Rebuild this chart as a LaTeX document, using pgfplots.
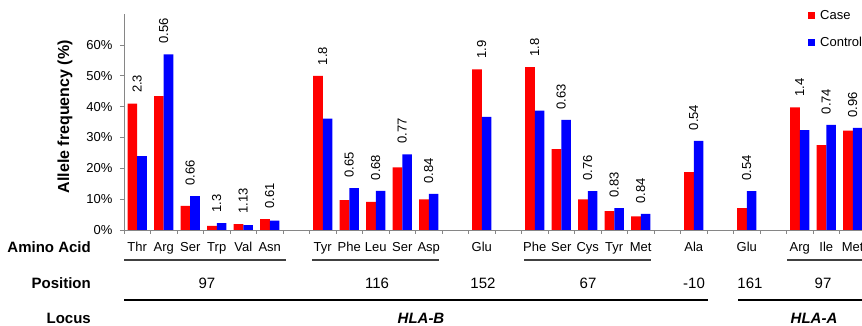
\documentclass[border=0pt]{standalone}
\usepackage{pgfplots}
\usepackage{pgfplotstable}
\pgfplotsset{compat=1.18}
\usepackage{fontspec}
\setmainfont{Liberation Sans}
\definecolor{casered}{RGB}{255,0,0}
\definecolor{ctrlblue}{RGB}{0,0,255}
\definecolor{axisgray}{RGB}{134,134,134}
\definecolor{linegray}{RGB}{64,64,64}

\pgfplotstableread{
x case control maxv label
0 41.0 24.0 41.0 2.3
1 43.4 57.0 57.0 0.56
2 7.8 11.0 11.0 0.66
3 1.3 2.2 2.2 1.3
4 1.9 1.6 1.9 1.13
5 3.5 3.0 3.5 0.61
7 50.0 36.1 50.0 1.8
8 9.7 13.6 13.6 0.65
9 9.1 12.7 12.7 0.68
10 20.3 24.5 24.5 0.77
11 9.9 11.7 11.7 0.84
13 52.1 36.7 52.1 1.9
15 52.8 38.7 52.8 1.8
16 26.2 35.7 35.7 0.63
17 9.9 12.6 12.6 0.76
18 6.1 7.1 7.1 0.83
19 4.4 5.2 5.2 0.84
21 18.8 28.9 28.9 0.54
23 7.1 12.6 12.6 0.54
25 39.8 32.4 39.8 1.4
26 27.5 34.1 34.1 0.74
27 32.2 33.1 33.1 0.96
}\datatable

\begin{document}
\begin{tikzpicture}
\path[use as bounding box] (-124pt,-96pt) rectangle (738pt,230pt);
\begin{axis}[
  scale only axis,
  width=742pt, height=215.8pt,
  xmin=-0.5, xmax=27.5,
  ymin=0, ymax=70,
  clip=false,
  axis x line=bottom, axis y line=left,
  axis line style={draw=axisgray, line width=0.8pt, -},
  tick align=outside,
  major tick length=0pt,
  minor tick length=4pt,
  every tick/.style={draw=axisgray, line width=0.8pt},
  every minor tick/.style={draw=axisgray, line width=0.8pt},
  xtick={0,...,27},
  xticklabels={Thr,Arg,Ser,Trp,Val,Asn,,Tyr,Phe,Leu,Ser,Asp,,Glu,,Phe,Ser,Cys,Tyr,Met,,Ala,,Glu,,Arg,Ile,Met},
  minor xtick={-0.5,0.5,...,27.5},
  ytick={0,10,...,60},
  yticklabels={0\%,10\%,20\%,30\%,40\%,50\%,60\%},
  minor ytick={0,10,...,60},
  ticklabel style={font=\fontsize{13}{15}\selectfont, text=black},
  xticklabel style={yshift=-9pt, anchor=north},
  yticklabel style={xshift=-8pt},
  ylabel={\bfseries Allele frequency (\%)},
  ylabel style={font=\fontsize{16}{18}\selectfont, at={(axis description cs:-0.0795,0.525)}, anchor=center, rotate=0},
  legend style={at={(axis description cs:0.9218,1.029)}, anchor=north west, draw=none, fill=none,
    font=\fontsize{13}{15}\selectfont, row sep=12.5pt, inner sep=0pt, cells={anchor=west}},
  legend cell align=left,
]
\addplot[ybar, bar width=9.7pt, bar shift=-4.85pt, fill=casered, draw=none, forget plot]
  table[x=x, y=case] {\datatable};
\addplot[ybar, bar width=9.7pt, bar shift=4.85pt, fill=ctrlblue, draw=none, forget plot]
  table[x=x, y=control] {\datatable};
\addplot[draw=none, mark=none, forget plot, nodes near coords, point meta=explicit symbolic,
  nodes near coords style={rotate=90, anchor=west, inner xsep=10.5pt, inner ysep=0pt,
    font=\fontsize{13}{15}\selectfont, text=black}]
  table[x=x, y=maxv, meta=label] {\datatable};
\addlegendimage{legend image code/.code={\fill[casered, draw=none] (0pt,-3.2pt) rectangle (7pt,3.2pt); \path[draw=none] (0pt,0pt) -- (10pt,0pt);}}
\addlegendentry{Case}
\addlegendimage{legend image code/.code={\fill[ctrlblue, draw=none] (0pt,-3.2pt) rectangle (7pt,3.2pt); \path[draw=none] (0pt,0pt) -- (10pt,0pt);}}
\addlegendentry{Control}
\end{axis}
% annotation rows (axis origin at 0,0)
\begin{scope}[font=\fontsize{15}{17}\selectfont]
\node[anchor=east, inner sep=0pt, font=\fontsize{15}{17}\selectfont\bfseries] at (-33pt,-17pt) {Amino Acid};
\node[anchor=east, inner sep=0pt, font=\fontsize{15}{17}\selectfont\bfseries] at (-33pt,-53pt) {Position};
\node[anchor=east, inner sep=0pt, font=\fontsize{15}{17}\selectfont\bfseries] at (-33pt,-88.5pt) {Locus};
\draw[linegray, line width=1.3pt] (0pt,-30pt) -- (162pt,-30pt);
\draw[linegray, line width=1.3pt] (188pt,-30pt) -- (315pt,-30pt);
\draw[linegray, line width=1.3pt] (400pt,-30pt) -- (527pt,-30pt);
\draw[linegray, line width=1.3pt] (663pt,-30pt) -- (742pt,-30pt);
\draw[black, line width=1.3pt] (0pt,-70pt) -- (584pt,-70pt);
\draw[black, line width=1.3pt] (614pt,-70pt) -- (742pt,-70pt);
\node at (83pt,-53pt) {97};
\node at (253pt,-53pt) {116};
\node at (359pt,-53pt) {152};
\node at (464pt,-53pt) {67};
\node at (570pt,-53pt) {-10};
\node at (626pt,-53pt) {161};
\node at (699pt,-53pt) {97};
\node[font=\fontsize{15}{17}\selectfont\bfseries\itshape] at (297pt,-88.5pt) {HLA-B};
\node[font=\fontsize{15}{17}\selectfont\bfseries\itshape] at (690pt,-88.5pt) {HLA-A};
\end{scope}
\end{tikzpicture}
\end{document}
